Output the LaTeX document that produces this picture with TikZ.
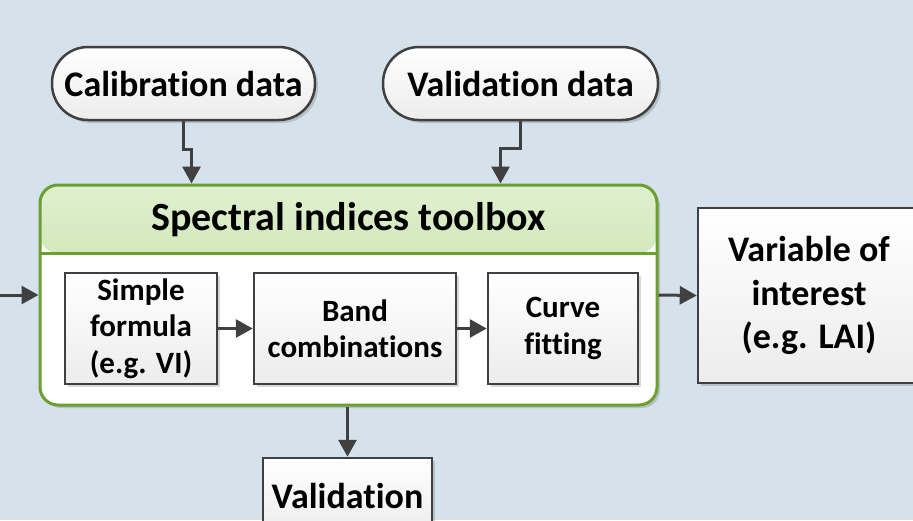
\documentclass[tikz,border=0pt]{standalone}
\usepackage{fontspec}
\setmainfont{Carlito}[Ligatures=NoCommon]
\usepackage{tikz}
\usetikzlibrary{arrows.meta, positioning, shadows}
\definecolor{bgblue}{RGB}{213,226,235}
\definecolor{linegray}{RGB}{64,64,64}
\definecolor{toolgreen}{RGB}{107,160,48}
\definecolor{headtop}{RGB}{224,240,208}
\definecolor{headbottom}{RGB}{180,216,140}
\definecolor{boxbottom}{RGB}{236,236,236}

\begin{document}
\begin{tikzpicture}[x=1pt, y=-1pt,
  every node/.style={font=\bfseries, align=center, text=black},
  shade/.style={drop shadow={shadow xshift=3pt, shadow yshift=-3pt, opacity=0.15, fill=black}},
  pill/.style={draw=linegray, line width=2.5pt, rounded corners=36pt, top color=white, bottom color=boxbottom,
    minimum height=73pt, font=\bfseries\fontsize{36}{42}\selectfont},
  stepbox/.style={draw=linegray, line width=2.5pt, top color=white, bottom color=boxbottom,
    minimum height=111pt, font=\bfseries\fontsize{31}{36.5}\selectfont},
  toolbox/.style={draw=toolgreen, line width=3pt, fill=white, rounded corners=18pt,
    minimum width=617pt, minimum height=220pt},
  conn/.style={draw=linegray, line width=3pt, -{Triangle[length=17pt, width=18pt]}}]

% Canvas
\fill[bgblue] (0,0) rectangle (913,520);
\useasboundingbox (0,0) rectangle (913,520);

% Data sources
\node[pill, shade, minimum width=263pt] (cal) at (183.5,83.5) {Calibration data};
\node[pill, shade, minimum width=275pt] (valdata) at (520.5,83.5) {Validation data};

% Toolbox with green header
\node[toolbox, shade, path picture={
    \fill[top color=headtop, bottom color=headbottom] (path picture bounding box.north west)
      rectangle ([yshift=-68pt]path picture bounding box.north east);
    \draw[toolgreen, line width=3pt] ([yshift=-68pt]path picture bounding box.north west)
      -- ([yshift=-68pt]path picture bounding box.north east);}] (tbox) at (348.5,295) {};
\node[font=\bfseries\fontsize{40}{46}\selectfont] (title) at (348.5,220) {Spectral indices toolbox};

% Steps inside the toolbox
\node[stepbox, shade, minimum width=152pt] (simple) at (141,328.5) {Simple\\formula\\(e.g. VI)};
\node[stepbox, shade, minimum width=202pt] (band) at (355,328.5) {Band\\combinations};
\node[stepbox, shade, minimum width=150pt] (curve) at (563,328.5) {Curve\\fitting};

% Outputs
\node[stepbox, shade, minimum width=222pt, minimum height=175pt,
  font=\bfseries\fontsize{36}{43.5}\selectfont] (var) at (809,295.5) {Variable of\\interest\\(e.g. LAI)};
\node[stepbox, shade, minimum width=169pt, minimum height=76pt,
  font=\bfseries\fontsize{36}{42}\selectfont] (valid) at (347.5,496) {Validation};

% Connections
\coordinate (src) at (0,295);
\draw[conn] (src) -- (tbox.west);
\draw[conn] (tbox.east) -- (var.west);
\draw[conn] (simple) -- (band);
\draw[conn] (band) -- (curve);
\draw[conn] (tbox.south -| valid) -- (valid.north);
\draw[conn] (cal.south) -- ++(0,28) -| ([xshift=153pt]tbox.north west);
\draw[conn] (valdata.south) -- ++(0,27) -| ([xshift=462pt]tbox.north west);

\end{tikzpicture}
\end{document}
